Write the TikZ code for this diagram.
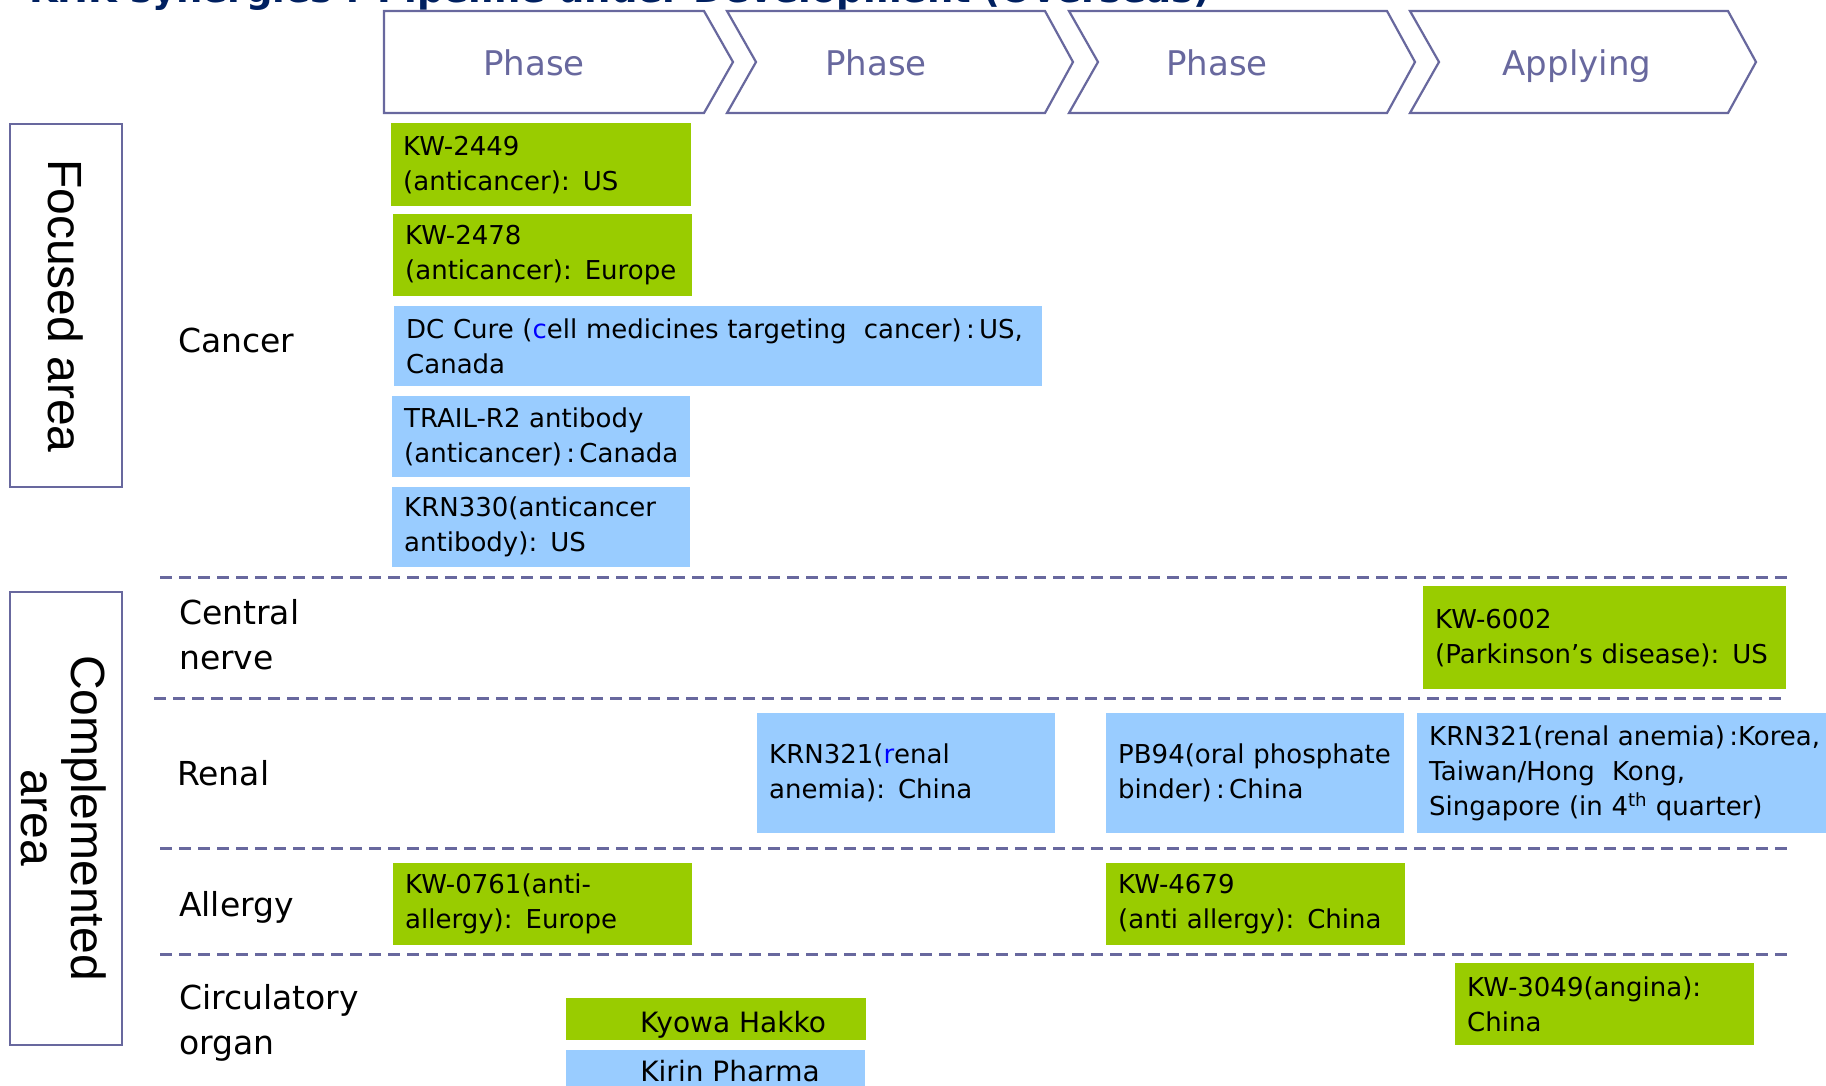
\documentclass[tikz,border=0pt]{standalone}
\usepackage{fontspec}
\setmainfont{DejaVu Sans}
\newfontfamily\arialfont{Liberation Sans}
\definecolor{kgreen}{RGB}{153,204,0}
\definecolor{kblue}{RGB}{153,204,255}
\definecolor{pline}{RGB}{104,104,158}
\definecolor{navy}{RGB}{0,32,96}
\newcommand\boxfont{\fontsize{26}{35}\selectfont}
\newcommand\rowfont{\fontsize{33}{45}\selectfont}
\newcommand\chevfont{\fontsize{34}{40}\selectfont}
\newcommand\sidefont{\arialfont\fontsize{48}{50}\selectfont}
\begin{document}
\begin{tikzpicture}[x=1pt,y=-1pt,
  drugbox/.style={rectangle, anchor=north west, inner xsep=12pt, inner ysep=0pt,
    align=left, font=\boxfont, text=black},
  legbox/.style={rectangle, anchor=north west, inner sep=0pt},
  legtext/.style={anchor=base, font=\fontsize{28}{30}\selectfont, text=black},
  rowlabel/.style={anchor=west, align=left, font=\rowfont, text=black, inner sep=0pt},
  chevron/.style={draw=pline, line width=2.2pt, fill=white, line join=miter},
  chevtext/.style={anchor=base, font=\chevfont, text=pline},
  sidebox/.style={draw=pline, line width=2.5pt},
  sidetext/.style={rotate=-90, align=center, font=\sidefont, text=black, inner sep=0pt},
  divider/.style={draw=pline, line width=3pt, dash pattern=on 12pt off 7pt}]

\useasboundingbox (0,0) rectangle (1826,1085);
\clip (0,0) rectangle (1826,1085);
\fill[white] (0,0) rectangle (1826,1085);

% clipped title
\node[anchor=base west, inner sep=0pt, font=\bfseries\fontsize{37}{40}\selectfont, text=navy]
  (title) at (29,2) {KHK synergies : Pipeline under Development (Overseas)};

% chevrons
\draw[chevron] (384,11) -- (704,11) -- (733,62) -- (704,113) -- (384,113) -- cycle;
\draw[chevron] (727,11) -- (1045,11) -- (1073,62) -- (1045,113) -- (727,113) -- (756,62) -- cycle;
\draw[chevron] (1069,11) -- (1387,11) -- (1415,62) -- (1387,113) -- (1069,113) -- (1098,62) -- cycle;
\draw[chevron] (1410,11) -- (1728,11) -- (1756,62) -- (1728,113) -- (1410,113) -- (1439,62) -- cycle;
\node[chevtext] (ph1) at (534,75) {Phase};
\node[chevtext] (ph2) at (876,75) {Phase};
\node[chevtext] (ph3) at (1217,75) {Phase};
\node[chevtext] (ph4) at (1577,75) {Applying};

% side boxes
\draw[sidebox] (10,124) rectangle (122,487);
\node[sidetext] (focused) at (66,306) {Focused area};
\draw[sidebox] (10,592) rectangle (122,1045);
\node[sidetext] (compl) at (64,818) {Complemented\\area};

% row labels
\node[rowlabel] (cancer) at (178,340) {Cancer};
\node[rowlabel] (nerve) at (179,635) {Central\\nerve};
\node[rowlabel] (renal) at (177,773) {Renal};
\node[rowlabel] (allergy) at (179,907) {Allergy};
\node[rowlabel] (circ) at (179,1023) {Circulatory\\organ};

% dividers
\draw[divider] (160,577) -- (1788,577);
\draw[divider] (154,698) -- (1781,698);
\draw[divider] (160,848) -- (1788,848);
\draw[divider] (160,954) -- (1788,954);

% cancer boxes
\node[drugbox, fill=kgreen, minimum width=300pt, minimum height=83pt, text width=276pt]
  (kw2449) at (391,123) {KW-2449\\(anticancer): US};
\node[drugbox, fill=kgreen, minimum width=299pt, minimum height=82pt, text width=275pt]
  (kw2478) at (393,214) {KW-2478\\(anticancer): Europe};
\node[drugbox, fill=kblue, minimum width=648pt, minimum height=80pt, text width=624pt]
  (dccure) at (394,306) {DC Cure (\textcolor{blue}{c}ell medicines targeting\ \ cancer)\,:\,US,\\Canada};
\node[drugbox, fill=kblue, minimum width=298pt, minimum height=81pt, text width=274pt]
  (trail) at (392,396) {TRAIL-R2 antibody\\(anticancer)\,:\,Canada};
\node[drugbox, fill=kblue, minimum width=298pt, minimum height=80pt, text width=274pt]
  (krn330) at (392,487) {KRN330(anticancer\\antibody): US};

% central nerve
\node[drugbox, fill=kgreen, minimum width=363pt, minimum height=103pt, text width=339pt]
  (kw6002) at (1423,586) {KW-6002\\(Parkinson’s disease): US};

% renal
\node[drugbox, fill=kblue, minimum width=298pt, minimum height=120pt, text width=274pt]
  (krn321c) at (757,713) {KRN321(\textcolor{blue}{r}enal\\anemia): China};
\node[drugbox, fill=kblue, minimum width=298pt, minimum height=120pt, text width=274pt]
  (pb94) at (1106,713) {PB94(oral phosphate\\binder)\,:\,China};
\node[drugbox, fill=kblue, minimum width=440pt, minimum height=120pt, text width=416pt]
  (krn321k) at (1417,713) {KRN321(renal anemia)\,:Korea,\\Taiwan/Hong\ \ Kong,\\Singapore (in 4\textsuperscript{th} quarter)};

% allergy
\node[drugbox, fill=kgreen, minimum width=299pt, minimum height=82pt, text width=275pt]
  (kw0761) at (393,863) {KW-0761(anti-\\allergy): Europe};
\node[drugbox, fill=kgreen, minimum width=299pt, minimum height=82pt, text width=275pt]
  (kw4679) at (1106,863) {KW-4679\\(anti allergy): China};

% circulatory
\node[drugbox, fill=kgreen, minimum width=299pt, minimum height=82pt, text width=275pt]
  (kw3049) at (1455,963) {KW-3049(angina):\\China};

% legend
\node[legbox, fill=kgreen, minimum width=300pt, minimum height=42pt] (kyowa) at (566,998) {};
\node[legtext] (kyowat) at (733,1032) {Kyowa Hakko};
\node[legbox, fill=kblue, minimum width=299pt, minimum height=50pt] (kirin) at (566,1050) {};
\node[legtext] (kirint) at (730,1081) {Kirin Pharma};
\end{tikzpicture}
\end{document}
